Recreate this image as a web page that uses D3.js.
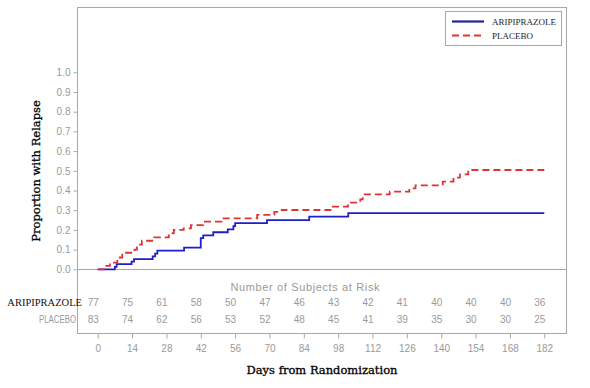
<!DOCTYPE html>
<html>
<head>
<meta charset="utf-8">
<script src="https://cdn.jsdelivr.net/npm/d3@7"></script>
<style>
  body { margin: 0; background: #fff; }
  svg { display: block; }
</style>
</head>
<body>
<svg id="chart-km"></svg>
<script>
// step points (day, cumulative proportion with relapse)
const aripDays = [0, 7, 7.7, 13.8, 14.8, 22.4, 23.4, 24.3, 35.2, 42, 43, 47.1, 53, 55.3, 56, 69, 86.2, 102.1, 182]
const aripProp = [0, 0.012, 0.026, 0.039, 0.052, 0.066, 0.08, 0.095, 0.11, 0.158, 0.172, 0.188, 0.203, 0.219, 0.234, 0.25, 0.267, 0.285, 0.285]

const placDays = [0, 3, 5, 8, 10, 15, 16, 18, 23, 29, 31, 35, 38, 43, 50.5, 65, 72, 75, 95.4, 102, 107, 108, 119, 127, 129.5, 140.6, 145, 147.6, 151, 182]
const placProp = [0, 0.017, 0.034, 0.06, 0.084, 0.1, 0.125, 0.145, 0.162, 0.183, 0.2, 0.208, 0.224, 0.242, 0.259, 0.276, 0.292, 0.301, 0.318, 0.338, 0.355, 0.38, 0.394, 0.411, 0.426, 0.445, 0.465, 0.482, 0.504, 0.504]

const xTicks = [0, 14, 28, 42, 56, 70, 84, 98, 112, 126, 140, 154, 168, 182]
const yTicks = [0, 0.1, 0.2, 0.3, 0.4, 0.5, 0.6, 0.7, 0.8, 0.9, 1.0]

const groups = ['ARIPIPRAZOLE', 'PLACEBO']
const atRiskArip = [77, 75, 61, 58, 50, 47, 46, 43, 42, 41, 40, 40, 40, 36]
const atRiskPlac = [83, 74, 62, 56, 53, 52, 48, 45, 41, 39, 35, 30, 30, 25]

const W = 590
const H = 388
const frame = { left: 77, top: 7, right: 566, bottom: 333 }
const grey = '#a8a8a8'
const tickGrey = '#9a9a9a'
const blue = '#1f1fc8'
const red = '#e03434'
const sans = 'Liberation Sans, Arial, sans-serif'
const serif = 'Liberation Serif, Times New Roman, serif'

const svg = d3.select('#chart-km')
    .attr('width', W)
    .attr('height', H)

const x = d3.scaleLinear().domain([0, 182]).range([97.7, 544.3])
const y = d3.scaleLinear().domain([0, 1]).range([269.3, 72.3])

// frame
svg.append('rect')
    .attr('x', frame.left + 0.5)
    .attr('y', frame.top + 0.5)
    .attr('width', frame.right - frame.left)
    .attr('height', frame.bottom - frame.top)
    .attr('fill', 'none')
    .attr('stroke', grey)
    .attr('stroke-width', 1)

// zero line across the frame
svg.append('line')
    .attr('x1', frame.left)
    .attr('x2', frame.right)
    .attr('y1', Math.round(y(0)) + 0.5)
    .attr('y2', Math.round(y(0)) + 0.5)
    .attr('stroke', grey)

// y axis
const yAxis = svg.append('g')
    .attr('transform', `translate(${frame.left + 0.5},0)`)
    .call(d3.axisLeft(y).tickValues(yTicks).tickFormat(d3.format('.1f')).tickSize(4).tickPadding(3))
yAxis.select('.domain').remove()
yAxis.selectAll('line').attr('stroke', grey)
yAxis.selectAll('text')
    .attr('fill', tickGrey)
    .attr('font-family', sans)
    .attr('font-size', 10)

// x axis
const xAxis = svg.append('g')
    .attr('transform', `translate(0,${frame.bottom + 0.5})`)
    .call(d3.axisBottom(x).tickValues(xTicks).tickSize(5).tickPadding(6))
xAxis.select('.domain').remove()
xAxis.selectAll('line').attr('stroke', grey)
xAxis.selectAll('text')
    .attr('fill', tickGrey)
    .attr('font-family', sans)
    .attr('font-size', 10)

// curves
const line = d3.line()
    .x(d => x(d[0]))
    .y(d => y(d[1]))
    .curve(d3.curveStepAfter)

svg.append('path')
    .datum(d3.zip(aripDays, aripProp))
    .attr('d', line)
    .attr('fill', 'none')
    .attr('stroke', blue)
    .attr('stroke-width', 1.8)

svg.append('path')
    .datum(d3.zip(placDays, placProp))
    .attr('d', line)
    .attr('fill', 'none')
    .attr('stroke', red)
    .attr('stroke-width', 1.8)
    .attr('stroke-dasharray', '7,4')

// legend
const legend = svg.append('g')
legend.append('rect')
    .attr('x', 445.5)
    .attr('y', 11.5)
    .attr('width', 116)
    .attr('height', 34)
    .attr('fill', '#fff')
    .attr('stroke', grey)
const legendItems = [
    { name: groups[0], color: '#22229a', dash: null },
    { name: groups[1], color: red, dash: '7,4' }
]
legendItems.forEach((d, i) => {
    const ly = 21.5 + i * 14
    legend.append('line')
        .attr('x1', 452)
        .attr('x2', 484)
        .attr('y1', ly)
        .attr('y2', ly)
        .attr('stroke', d.color)
        .attr('stroke-width', 2.2)
        .attr('stroke-dasharray', d.dash)
    legend.append('text')
        .attr('x', 492)
        .attr('y', ly + 3.5)
        .attr('font-family', serif)
        .attr('font-size', 9)
        .attr('fill', '#222')
        .text(d.name)
})

// number at risk
svg.append('text')
    .attr('x', 305)
    .attr('y', 291)
    .attr('text-anchor', 'middle')
    .attr('font-family', sans)
    .attr('font-size', 11)
    .attr('fill', tickGrey)
    .attr('textLength', 149)
    .attr('lengthAdjust', 'spacing')
    .text('Number of Subjects at Risk')

const rows = [
    { values: atRiskArip, y: 306 },
    { values: atRiskPlac, y: 322.5 }
]
rows.forEach(r => {
    svg.selectAll(null)
        .data(r.values)
        .enter()
        .append('text')
        .attr('x', (d, j) => x(xTicks[j]) - 4.5)
        .attr('y', r.y)
        .attr('text-anchor', 'middle')
        .attr('font-family', sans)
        .attr('font-size', 10)
        .attr('fill', tickGrey)
        .text(d => d)
})

svg.append('text')
    .attr('x', 82)
    .attr('y', 306)
    .attr('text-anchor', 'end')
    .attr('font-family', serif)
    .attr('font-size', 10.5)
    .attr('fill', '#111')
    .text(groups[0])

svg.append('text')
    .attr('x', 76)
    .attr('y', 322.5)
    .attr('text-anchor', 'end')
    .attr('font-family', sans)
    .attr('font-size', 10)
    .attr('fill', tickGrey)
    .attr('textLength', 37)
    .attr('lengthAdjust', 'spacingAndGlyphs')
    .text(groups[1])

// axis titles
svg.append('text')
    .attr('x', 322)
    .attr('y', 374)
    .attr('text-anchor', 'middle')
    .attr('font-family', 'DejaVu Serif, serif')
    .attr('font-size', 11.5)
    .attr('fill', '#000')
    .attr('stroke', '#000')
    .attr('stroke-width', 0.3)
    .text('Days from Randomization')

svg.append('text')
    .attr('transform', 'translate(40,171) rotate(-90)')
    .attr('text-anchor', 'middle')
    .attr('font-family', 'DejaVu Serif, serif')
    .attr('font-size', 11.5)
    .attr('fill', '#000')
    .attr('stroke', '#000')
    .attr('stroke-width', 0.3)
    .text('Proportion with Relapse')
</script>
</body>
</html>
